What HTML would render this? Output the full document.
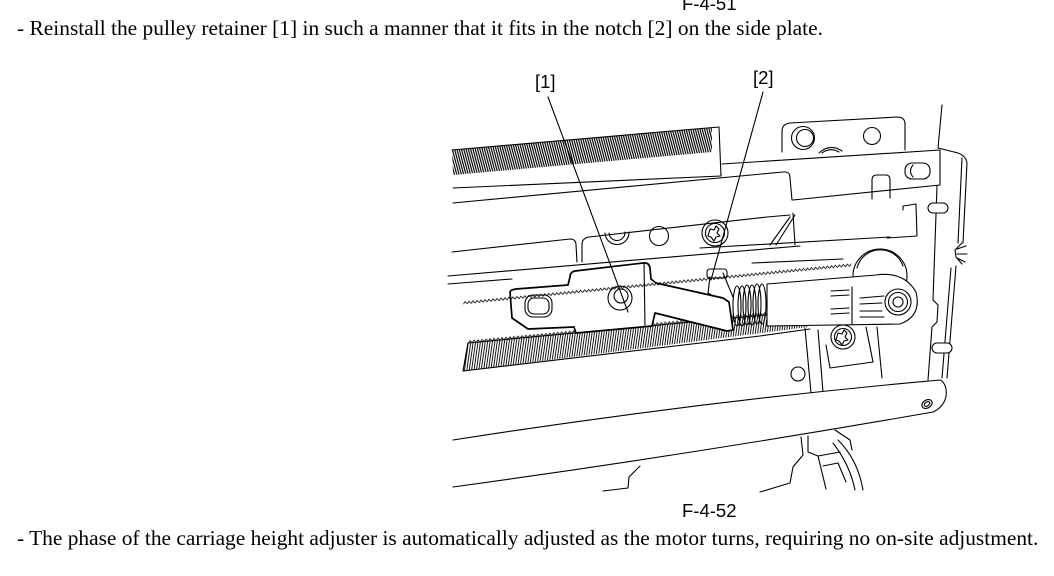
<!DOCTYPE html>
<html><head><meta charset="utf-8">
<style>
html,body{margin:0;padding:0;background:#fff;}
body{width:1054px;height:576px;overflow:hidden;position:relative;}
svg{position:absolute;left:0;top:0;}
.t{font-family:"Liberation Serif",serif;font-size:21.4px;fill:#000;}
.s{font-family:"Liberation Sans",sans-serif;fill:#000;font-size:18.5px;}
</style></head><body>
<svg width="1054" height="576" viewBox="0 0 1054 576">
<defs>
<pattern id="hb" width="2.3" height="20" patternUnits="userSpaceOnUse" patternTransform="skewX(15)"><rect width="1.2" height="20" fill="#000"/></pattern>
<pattern id="rk" width="2.4" height="40" patternUnits="userSpaceOnUse" patternTransform="skewX(-8)"><rect width="0.9" height="40" fill="#000"/></pattern>
<pattern id="zz" width="4" height="4" patternUnits="userSpaceOnUse"><path d="M0,3.2 L2,0.8 L4,3.2" fill="none" stroke="#000" stroke-width="0.8"/></pattern>
</defs>

<text class="s" x="682" y="10">F-4-51</text>
<text class="t" x="17" y="35" textLength="806" lengthAdjust="spacingAndGlyphs">- Reinstall the pulley retainer [1] in such a manner that it fits in the notch [2] on the side plate.</text>
<text class="s" x="535" y="88">[1]</text>
<text class="s" x="753" y="84">[2]</text>
<text class="s" x="682" y="517">F-4-52</text>
<text class="t" x="17" y="545">- The phase of the carriage height adjuster is automatically adjusted as the motor turns, requiring no on-site adjustment.</text>

<g fill="none" stroke="#000" stroke-width="1.1" stroke-linejoin="round" stroke-linecap="round">
<!-- top hatched bar -->
<polygon points="452,150 712,128 712,152 453,175" fill="url(#hb)" stroke="none"/>
<path d="M452,150 L719,127 L721,176"/>
<path d="M453,188 L721,176"/>
<path d="M722,164 L940,150 L940,185 L793,200"/>
<path d="M453,203 L783,172 Q790,171 790,178 L792,200"/>

<!-- upper bracket -->
<path d="M782,152 L782,131 Q782,124 790,123 L897,117 Q905,117 905,124 L905,150"/>
<circle cx="803" cy="138" r="11.5"/><circle cx="805" cy="138" r="8.5"/>
<circle cx="872" cy="136" r="8.5"/>
<path d="M819,153 Q830,143 842,151"/><path d="M822,153 Q830,147 839,152"/>
<path d="M872,199 L872,180 Q872,175 877,175 L886,175 Q890,175 890,180 L890,198"/>
<rect x="905" y="163" width="25" height="16" rx="7"/>
<path d="M913,165 Q908,171 913,177"/>

<!-- right frame -->
<path d="M942,105 L938,148 L958,153 Q966,156 967,163 L963,243"/>
<path d="M962,158 L958,243"/>
<path d="M956,266 L947,378"/><path d="M951,268 L942,378"/>
<path d="M962,243 L955,250 L956,257 L962,264 M957,249 L966,246 M957,254 L967,254 M957,258 L965,262"/>
<path d="M937,186 L933,300 L938,305 L937,322 L932,327 L928,380"/>
<rect x="928" y="203" width="20" height="10" rx="5" fill="#fff"/>
<rect x="932" y="343" width="20" height="10" rx="5" fill="#fff"/>
<path d="M903,210 L903,206 L916,204 L917,236 L887,238"/>

<!-- middle plate -->
<path d="M452,252 L570,239 Q576,239 576,245 L577,262"/>
<path d="M582,262 L582,245 Q582,238 589,237 L767,217 L790,215"/>
<path d="M790,217 L770,245 M795,215 L776,245 M793,213 L795,245"/>
<path d="M605,233 A12,12 0 0 0 629,232"/><path d="M609,233 A8,8 0 0 0 625,232"/>
<circle cx="659" cy="236" r="9.5"/>
<circle cx="715" cy="233" r="13"/><circle cx="715" cy="233" r="9.5"/>
<path d="M710,229 L714,230 L716,226 L719,229 L717,233 L720,236 L716,237 L714,241 L711,237 L708,236 Z"/>
<path d="M448,276 L800,246"/><path d="M448,284 L512,279"/>
<path d="M700,248 L890,237"/><path d="M752,263 L843,259"/>

<!-- rack -->
<polygon points="468,343 808,311 808,327 463,371" fill="url(#rk)" stroke="none"/>
<path d="M468,343 L808,311 M463,371 L760,336 L810,329 M468,343 L463,371"/>
<g transform="translate(468,340) rotate(-5.4)"><rect width="342" height="4" fill="url(#zz)" stroke="none"/></g>

<!-- retainer -->
<path d="M510,292 L512,318 L528,329 L574,327 L576,333 L652,326 L655,313 L727,331 L733,330 L729,302 L723,298 L656,283 L651,279 L650,268 Q649,262 643,263 L575,271 Q570,272 570,277 L568,285 L516,289 Q510,290 510,292 Z" fill="#fff" stroke-width="1.7"/>
<path d="M644,263 L645,326"/>
<rect x="525" y="295" width="27" height="22" rx="8"/><rect x="528" y="298" width="21" height="16" rx="6"/>
<circle cx="620" cy="298" r="12"/><circle cx="621" cy="296" r="7"/>
<rect x="707" y="269" width="20" height="9" rx="3" fill="#fff"/>
<path d="M710,277 L708,293 L713,296 M723,273 L733,297"/>

<!-- belt -->
<g transform="translate(463,301) rotate(-5.6)"><rect width="390" height="4" fill="url(#zz)" stroke="none"/></g>

<!-- spring -->
<ellipse cx="737" cy="306" rx="4" ry="20"/><ellipse cx="742" cy="306" rx="4" ry="20"/>
<ellipse cx="747" cy="305" rx="4" ry="20"/><ellipse cx="752" cy="305" rx="4" ry="20"/>
<ellipse cx="757" cy="304" rx="4" ry="20"/><ellipse cx="762" cy="304" rx="4" ry="20"/>

<!-- pulley & arm -->
<circle cx="880" cy="276" r="27" fill="#fff"/>
<path d="M857,268 A24,24 0 0 1 903,266"/>
<path d="M767,284 L876,275 Q904,271 916,292 Q922,316 900,324 L767,326 Z" fill="#fff"/>
<path d="M852,287 L852,324"/>
<path d="M831,291 L849,290 M831,296 L849,295 M831,309 L849,308 M831,314 L849,313"/>
<path d="M860,298 L884,296 M860,304 L882,303 M860,311 L882,311 M860,317 L884,317"/>
<circle cx="898" cy="302" r="13"/><circle cx="898" cy="302" r="9.5"/><circle cx="898" cy="302" r="5"/>

<!-- bracket below arm -->
<path d="M805,328 L811,393"/><path d="M818,330 L823,392"/>
<path d="M826,345 L830,368 L873,362 L866,327"/>
<path d="M877,327 L882,378"/>
<circle cx="843" cy="337" r="12" fill="#fff"/><circle cx="843" cy="337" r="8.5"/>
<path d="M838,333 L842,334 L844,330 L847,333 L845,337 L848,340 L844,341 L842,345 L839,341 L836,340 Z"/>
<circle cx="798" cy="374" r="7" fill="#fff"/>

<!-- rod -->
<path d="M453,440 Q703,401 940,380 C948,383 951,404 933,412 Q693,454 453,487" fill="#fff"/>
<ellipse cx="927" cy="404" rx="5.5" ry="4" transform="rotate(-30 927 404)"/>
<ellipse cx="927" cy="404" rx="3" ry="2" transform="rotate(-30 927 404)"/>

<!-- below rod -->
<path d="M603,491 L628,488 L629,477 L640,466"/>
<path d="M760,492 L790,483 L793,467 L803,455 L801,437"/>
<path d="M808,436 L808,452 M835,430 L850,440 L852,450"/>
<path d="M838,440 Q858,460 863,490 M833,443 Q850,465 855,490"/>
<path d="M808,452 L818,456 L826,489 M818,456 L840,452 M823,466 L838,463 L846,482"/>

<!-- leaders -->
<path d="M548,97 L628,312"/>
<path d="M763,92 L711,280"/>
</g>
</svg>
</body></html>
